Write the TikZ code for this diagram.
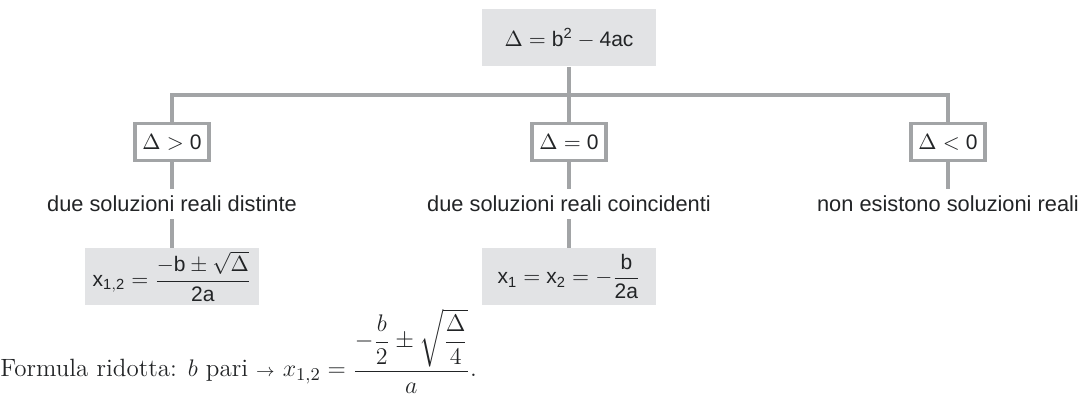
\documentclass[tikz,border=0pt]{standalone}
\usepackage{amsmath}
\usepackage{fontspec}
\setsansfont{Liberation Sans}
\usetikzlibrary{positioning}
\definecolor{Ink}{HTML}{222426}
\definecolor{TreeGray}{HTML}{A2A4A6}
\definecolor{BoxFill}{HTML}{E2E3E5}
\tikzset{
  tree line/.style={draw=TreeGray, line width=1.7pt},
  formula box/.style={fill=BoxFill, minimum width=87pt, minimum height=28.5pt,
    inner sep=0pt, text=Ink, font=\sffamily\fontsize{10.5}{12}\selectfont},
  case box/.style={draw=TreeGray, fill=white, line width=1.7pt,
    minimum width=37pt, minimum height=18.5pt, inner sep=1pt, text=Ink,
    font=\sffamily\fontsize{10.5}{12}\selectfont},
  case text/.style={text=Ink, font=\sffamily\fontsize{10.9}{13}\selectfont,
    text height=8pt, text depth=0pt, inner ysep=3.5pt, inner xsep=0pt},
  note text/.style={text=Ink, font=\rmfamily\fontsize{12.5}{14}\selectfont, inner sep=0pt},
}
\newcommand{\sv}[1]{\mathsf{#1}}

\begin{document}
\begin{tikzpicture}[x=0.5pt, y=0.5pt]
  \useasboundingbox (0,0) rectangle (1082,399);

  % Discriminant on top, bar splitting into the three cases.
  \node[formula box] (delta) at (569,361) {$\Delta = \sv{b}^{\sv{2}} - \sv{4ac}$};
  \coordinate (bar) at (569,304);

  \node[case box] (pos) at (172,257) {$\Delta > \sv{0}$};
  \node[case box] (zero) at (569,257) {$\Delta = \sv{0}$};
  \node[case box] (neg) at (948,257) {$\Delta < \sv{0}$};

  \node[case text] (posText) at (172,195) {due soluzioni reali distinte};
  \node[case text] (zeroText) at (569,195) {due soluzioni reali coincidenti};
  \node[case text] (negText) at (948,195) {non esistono soluzioni reali};

  % Solution formulas.
  \node[formula box] (posSol) at (172,122.5)
    {$\sv{x}_{\sv{1,2}} = \dfrac{-\sv{b} \pm \sqrt{\Delta}}{\sv{2a}}$};
  \node[formula box] (zeroSol) at (569,122.5)
    {$\sv{x}_{\sv{1}} = \sv{x}_{\sv{2}} = -\dfrac{\sv{b}}{\sv{2a}}$};

  \node[note text, anchor=base west] (reduced) at (0,22)
    {Formula ridotta: $b$ pari $\scriptstyle\rightarrow$ $x_{1,2} = \dfrac{-\dfrac{b}{2} \pm \sqrt{\dfrac{\Delta}{4}}}{a}$.};

  % Tree connectors.
  \draw[tree line] (delta.south) -- (zero.north);
  \draw[tree line] (pos.north) |- (bar) -| (neg.north);
  \draw[tree line] (pos.south) -- (posText.north);
  \draw[tree line] (zero.south) -- (zeroText.north);
  \draw[tree line] (neg.south) -- (negText.north);
  \draw[tree line] (posText.south) -- (posSol.north);
  \draw[tree line] (zeroText.south) -- (zeroSol.north);
\end{tikzpicture}
\end{document}
